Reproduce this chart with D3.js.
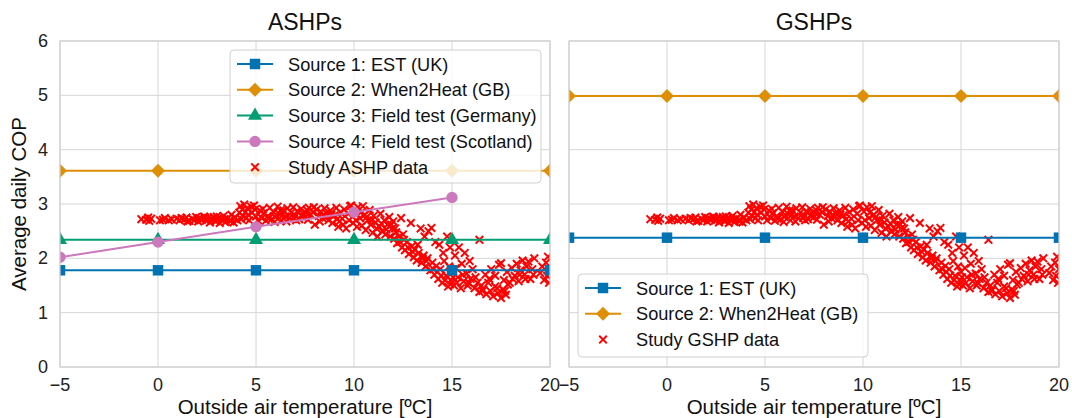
<!DOCTYPE html>
<html lang="en">
<head>
<meta charset="UTF-8">
<title>ASHP / GSHP COP</title>
<style>
    body { margin: 0; background: #fff; }
    svg { font-family: "Liberation Sans", Arial, sans-serif; }
    .grid line { stroke: #d6d6d6; stroke-width: 1; }
    .tick-label { font-size: 18px; fill: #222; }
</style>
</head>
<body>
<div id="chart"></div>
<script src="https://d3js.org/d3.v7.min.js"></script>
<script>
// axis ticks
var xTicks = [-5, 0, 5, 10, 15, 20];
var yTicks = [0, 1, 2, 3, 4, 5, 6];

// reference sources (COP at each tick temperature)
var sourceTemps = [-5, 0, 5, 10, 15, 20];
var ashpEst = [1.78, 1.78, 1.78, 1.78, 1.78, 1.78];
var ashpWhen2Heat = [3.61, 3.61, 3.61, 3.61, 3.61, 3.61];
var ashpGermany = [2.34, 2.34, 2.34, 2.34, 2.34, 2.34];
var scotlandTemps = [-5, 0, 5, 10, 15];
var ashpScotland = [2.02, 2.30, 2.58, 2.85, 3.12];
var gshpEst = [2.38, 2.38, 2.38, 2.38, 2.38, 2.38];
var gshpWhen2Heat = [4.99, 4.99, 4.99, 4.99, 4.99, 4.99];

// study daily data [outside temperature, average COP]
var studyPoints = [
    [-0.85,2.72],[-0.6,2.71],[-0.5,2.75],[-0.45,2.69],[-0.35,2.73],[0.25,2.71],[0.35,2.74],[0.55,2.70],
    [0.95,2.73],[1.1,2.70],[1.2,2.74],[1.35,2.72],[1.45,2.75],[1.6,2.69],[1.75,2.73],[1.85,2.70],
    [1.95,2.76],[2.05,2.68],[2.1,2.74],[2.15,2.73],[2.25,2.71],[2.35,2.77],[2.45,2.69],[2.55,2.74],
    [2.65,2.66],[2.75,2.72],[2.85,2.76],[2.9,2.70],[2.95,2.68],[3.05,2.73],[3.15,2.65],[3.25,2.71],
    [3.35,2.78],[3.4,2.72],[3.45,2.67],[3.55,2.74],[3.65,2.70],[3.75,2.80],[3.85,2.66],[3.95,2.75],
    [4.05,2.70],[4.15,2.84],
    [4.2,2.96],[4.3,2.90],[4.35,2.78],[4.4,2.99],[4.45,2.85],[4.5,2.74],[4.55,2.92],[4.65,2.70],
    [4.75,2.95],[4.8,2.84],[4.9,2.97],[5.0,2.77],[5.1,2.70],[5.2,2.88],
    [5.3,2.74],[5.4,2.83],[5.5,2.69],[5.6,2.78],[5.7,2.93],[5.8,2.72],[5.9,2.85],[6.0,2.76],
    [6.1,2.95],[6.2,2.81],[6.3,2.70],[6.35,2.80],[6.4,2.88],[6.5,2.77],[6.6,2.92],[6.7,2.74],
    [6.8,2.84],[6.9,2.94],[7.0,2.79],[7.05,2.70],[7.1,2.87],[7.2,2.72],[7.3,2.91],[7.4,2.82],
    [7.5,2.76],[7.55,2.84],[7.6,2.89],[7.7,2.93],[7.8,2.80],[7.9,2.85],[8.0,2.62],[8.1,2.90],
    [8.2,2.78],[8.3,2.86],[8.4,2.74],[8.45,2.80],[8.5,2.92],[8.6,2.83],[8.7,2.70],[8.8,2.88],
    [8.9,2.65],[9.0,2.79],[9.1,2.93],[9.2,2.58],[9.25,2.68],[9.3,2.85],[9.4,2.73],[9.5,2.90],
    [9.6,2.55],[9.7,2.82],[9.8,2.96],
    [9.85,2.97],[9.95,2.65],[10.05,2.86],[10.15,2.58],[10.2,2.94],[10.3,2.74],[10.4,2.60],[10.45,2.96],
    [10.55,2.80],[10.6,2.52],[10.7,2.70],[10.8,2.89],[10.85,2.62],[10.95,2.47],[11.0,2.78],[11.1,2.66],
    [11.2,2.40],[11.3,2.58],[11.35,2.82],[11.45,2.50],[11.55,2.70],[11.6,2.44],[11.7,2.62],[11.8,2.76],
    [11.85,2.40],[11.95,2.55],[12.0,2.68],
    [12.05,2.36],[12.15,2.48],[12.2,2.28],[12.3,2.40],[12.4,2.74],[12.45,2.20],[12.55,2.34],[12.6,2.15],
    [12.7,2.30],[12.8,2.08],[12.9,2.65],[12.95,2.22],[13.05,2.02],[13.1,2.16],[13.2,1.96],[13.3,2.10],
    [13.4,2.55],[13.45,1.92],[13.55,2.05],[13.6,2.40],
    [13.65,1.85],[13.75,2.00],[13.8,2.50],[13.9,1.78],[13.95,2.56],[14.0,1.92],[14.1,1.70],[14.15,2.30],
    [14.2,1.86],[14.3,1.62],[14.35,2.25],[14.4,1.80],[14.5,1.55],[14.55,2.10],[14.6,1.95],[14.7,1.68],
    [14.75,2.40],[14.8,1.48],[14.85,1.85],[14.9,2.20],[14.95,1.60],[15.0,1.75],
    [15.1,1.50],[15.15,2.05],[15.2,1.82],[15.3,1.65],[15.35,2.20],[15.45,1.45],[15.5,1.90],[15.6,1.58],
    [15.65,2.10],[15.75,1.72],[15.8,1.50],[15.9,1.95],[15.95,1.62],[16.05,1.80],[16.4,2.34],
    [16.15,1.45],[16.3,1.55],[16.4,1.38],[16.5,1.50],[16.6,1.42],[16.75,1.34],[16.85,1.55],[16.95,1.40],
    [17.1,1.30],[17.2,1.48],[17.35,1.36],[17.5,1.27],[17.6,1.42],[17.75,1.33],[17.85,1.52],
    [16.7,1.70],[16.9,1.62],[17.0,1.80],[17.2,1.68],[17.4,1.88],[17.5,1.91],[17.65,1.60],[17.8,1.75],
    [17.95,1.55],[18.05,1.82],[18.2,1.68],[18.3,1.90],[18.4,1.58],[18.5,1.78],[18.6,1.96],[18.7,1.70],
    [18.8,1.85],[18.9,1.94],[19.0,1.62],[19.1,1.80],[19.2,2.00],
    [19.5,1.73],[19.7,1.60],[19.8,1.92],[19.9,2.03],[19.95,1.55],[20.0,1.80],
    [0.1,2.70],[0.7,2.72],[1.5,2.68],[2.4,2.75],[3.0,2.77],[3.7,2.68],[4.25,2.72],[4.6,2.80],
    [4.95,2.90],[5.35,2.91],[5.65,2.73],[5.95,2.67],[6.25,2.88],[6.55,2.68],[6.95,2.74],[7.35,2.77],
    [7.65,2.71],[7.95,2.94],[8.25,2.68],[8.55,2.75],[8.85,2.80],[9.15,2.72],[9.45,2.62],[9.75,2.70],
    [10.1,2.70],[10.35,2.84],[10.65,2.76],[10.9,2.70],[11.15,2.55],[11.4,2.64],[11.65,2.53],[11.9,2.62],
    [12.1,2.55],[12.35,2.30],[12.5,2.44],[12.75,2.20],[13.0,2.12],[13.25,2.25],[13.5,2.00],[13.7,1.95],
    [14.05,1.80],[14.25,1.75],[14.45,1.68],[14.65,1.60],[14.9,1.52],[15.05,1.65],[15.25,1.55],[15.55,1.70],
    [15.85,1.55],[16.2,1.65],[16.55,1.40],[17.3,1.45],[17.7,1.40],[18.1,1.62],[18.45,1.70],[18.75,1.62],
    [19.15,1.70],[19.6,1.85],[19.85,1.68]
];

var colors = { blue: "#0173b2", orange: "#de8f05", green: "#029e73", pink: "#cc78bc" };

var width = 1072, height = 418;
var plotTop = 41, plotBottom = 367;

var svg = d3.select("#chart").append("svg")
    .attr("width", width)
    .attr("height", height);

var y = d3.scaleLinear().domain([0, 6]).range([plotBottom, plotTop]);

// marker shapes
var squareSym = d3.symbol().type(d3.symbolSquare).size(110);
var triSym = d3.symbol().type(d3.symbolTriangle).size(85);
var circSym = d3.symbol().type(d3.symbolCircle).size(100);
var diamondPath = "M0,-7L7,0L0,7L-7,0Z";
var crossPath = "M-3.8,-3.8L3.8,3.8M-3.8,3.8L3.8,-3.8";

function markerPath(kind) {
    if (kind === "square") return squareSym();
    if (kind === "diamond") return diamondPath;
    if (kind === "triangle") return triSym();
    return circSym();
}

function drawPanel(left, right, id, title, series, legend, studyLabel, showY) {
    var x = d3.scaleLinear().domain([-5, 20]).range([left, right]);

    var g = svg.append("g");

    g.append("clipPath").attr("id", "clip-" + id)
        .append("rect")
        .attr("x", left).attr("y", plotTop)
        .attr("width", right - left).attr("height", plotBottom - plotTop);

    // grid
    var grid = g.append("g").attr("class", "grid");
    grid.selectAll(".gx").data(xTicks).enter().append("line")
        .attr("x1", function (d) { return x(d); }).attr("x2", function (d) { return x(d); })
        .attr("y1", plotTop).attr("y2", plotBottom);
    grid.selectAll(".gy").data(yTicks).enter().append("line")
        .attr("x1", left).attr("x2", right)
        .attr("y1", function (d) { return y(d); }).attr("y2", function (d) { return y(d); });

    var plot = g.append("g").attr("clip-path", "url(#clip-" + id + ")");

    // study data (drawn under the lines, as in matplotlib)
    plot.selectAll(".pt").data(studyPoints).enter().append("path")
        .attr("d", crossPath)
        .attr("transform", function (d) { return "translate(" + x(d[0]) + "," + y(d[1]) + ")"; })
        .attr("stroke", "#ff0000")
        .attr("stroke-width", 2)
        .attr("fill", "none");

    var line = d3.line()
        .x(function (d) { return x(d[0]); })
        .y(function (d) { return y(d[1]); });

    series.forEach(function (s) {
        var pts = s.temps.map(function (t, i) { return [t, s.values[i]]; });
        plot.append("path")
            .datum(pts)
            .attr("d", line)
            .attr("fill", "none")
            .attr("stroke", s.color)
            .attr("stroke-width", 2);
        plot.selectAll(null).data(pts).enter().append("path")
            .attr("d", markerPath(s.marker))
            .attr("transform", function (d) { return "translate(" + x(d[0]) + "," + y(d[1]) + ")"; })
            .attr("fill", s.color);
    });

    // frame
    g.append("rect")
        .attr("x", left).attr("y", plotTop)
        .attr("width", right - left).attr("height", plotBottom - plotTop)
        .attr("fill", "none").attr("stroke", "#cfcfcf").attr("stroke-width", 1.2);

    // tick labels
    g.selectAll(".xl").data(xTicks).enter().append("text")
        .attr("class", "tick-label")
        .attr("x", function (d) { return x(d); })
        .attr("y", 391)
        .attr("text-anchor", "middle")
        .text(function (d) { return d < 0 ? "\u2212" + Math.abs(d) : d; });

    if (showY) {
        g.selectAll(".yl").data(yTicks).enter().append("text")
            .attr("class", "tick-label")
            .attr("x", left - 12)
            .attr("y", function (d) { return y(d) + 6; })
            .attr("text-anchor", "end")
            .text(function (d) { return d; });
    }

    g.append("text")
        .attr("x", (left + right) / 2).attr("y", 30)
        .attr("text-anchor", "middle")
        .attr("font-size", 23).attr("fill", "#111")
        .text(title);

    g.append("text")
        .attr("x", (left + right) / 2).attr("y", 414)
        .attr("text-anchor", "middle")
        .attr("font-size", 20.5).attr("fill", "#111")
        .text("Outside air temperature [\u00baC]");

    // legend
    var lg = g.append("g");
    lg.append("rect")
        .attr("x", legend.x).attr("y", legend.y)
        .attr("width", legend.w).attr("height", legend.h)
        .attr("rx", 4)
        .attr("fill", "#fff").attr("fill-opacity", 0.8)
        .attr("stroke", "#d0d0d0");

    var items = series.map(function (s) { return s; }).concat([{ label: studyLabel, study: true }]);
    items.forEach(function (s, i) {
        var cy = legend.y + 14 + i * 25.8;
        var hx = legend.x + 7;
        if (s.study) {
            lg.append("path")
                .attr("d", crossPath)
                .attr("transform", "translate(" + (hx + 18) + "," + cy + ")")
                .attr("stroke", "#ff0000").attr("stroke-width", 2);
        } else {
            lg.append("line")
                .attr("x1", hx).attr("x2", hx + 36)
                .attr("y1", cy).attr("y2", cy)
                .attr("stroke", s.color).attr("stroke-width", 2);
            lg.append("path")
                .attr("d", markerPath(s.marker))
                .attr("transform", "translate(" + (hx + 18) + "," + cy + ")")
                .attr("fill", s.color);
        }
        lg.append("text")
            .attr("x", legend.x + 58).attr("y", cy + 6.5)
            .attr("font-size", 18.2).attr("fill", "#111")
            .text(s.label);
    });
}

drawPanel(60, 550, "ashp", "ASHPs", [
    { label: "Source 1: EST (UK)", temps: sourceTemps, values: ashpEst, color: colors.blue, marker: "square" },
    { label: "Source 2: When2Heat (GB)", temps: sourceTemps, values: ashpWhen2Heat, color: colors.orange, marker: "diamond" },
    { label: "Source 3: Field test (Germany)", temps: sourceTemps, values: ashpGermany, color: colors.green, marker: "triangle" },
    { label: "Source 4: Field test (Scotland)", temps: scotlandTemps, values: ashpScotland, color: colors.pink, marker: "circle" }
], { x: 230, y: 50, w: 311, h: 133 }, "Study ASHP data", true);

drawPanel(569, 1059, "gshp", "GSHPs", [
    { label: "Source 1: EST (UK)", temps: sourceTemps, values: gshpEst, color: colors.blue, marker: "square" },
    { label: "Source 2: When2Heat (GB)", temps: sourceTemps, values: gshpWhen2Heat, color: colors.orange, marker: "diamond" }
], { x: 578, y: 274, w: 290, h: 83 }, "Study GSHP data", false);

svg.append("text")
    .attr("transform", "translate(26,204) rotate(-90)")
    .attr("text-anchor", "middle")
    .attr("font-size", 20.5).attr("fill", "#111")
    .text("Average daily COP");
</script>
</body>
</html>
